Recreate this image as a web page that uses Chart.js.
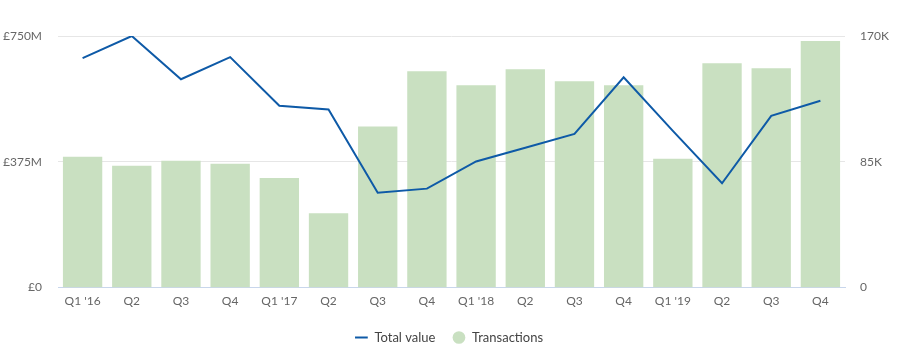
<!DOCTYPE html>
<html>
<head>
<meta charset="utf-8">
<script src="https://cdn.jsdelivr.net/npm/chart.js@4/dist/chart.umd.min.js"></script>
<style>
html,body{margin:0;padding:0;background:#fff;}
#wrap{width:898px;height:364px;position:relative;}
</style>
</head>
<body>
<div id="wrap"><canvas id="c" width="898" height="364"></canvas></div>
<script>
const categories = ["Q1 '16","Q2","Q3","Q4","Q1 '17","Q2","Q3","Q4","Q1 '18","Q2","Q3","Q4","Q1 '19","Q2","Q3","Q4"];
// Total value, £ millions
const totalValue = [684,750,621,687,542,531,283,295,376,417,458,627,467,311,512,557];
// Transactions, thousands
const transactions = [88.4,82.3,85.7,83.6,74.1,50.3,108.8,146.2,136.7,147.6,139.4,136.7,87.0,151.6,148.2,166.6];
const leftTicks = [0,375,750];
const rightTicks = [0,85,170];

const font = {family: "Lato, 'Noto Sans', sans-serif", size: 12};
const textColor = '#666666';

new Chart(document.getElementById('c'), {
  data: {
    labels: categories,
    datasets: [
      {
        type: 'line',
        label: 'Total value',
        data: totalValue,
        yAxisID: 'yL',
        borderColor: '#0e5aa7',
        backgroundColor: '#0e5aa7',
        borderWidth: 2,
        pointRadius: 0,
        pointHoverRadius: 0,
        tension: 0,
        pointStyle: 'line',
        order: 0
      },
      {
        type: 'bar',
        label: 'Transactions',
        data: transactions,
        yAxisID: 'yR',
        backgroundColor: '#c9e0c1',
        borderWidth: 0,
        categoryPercentage: 0.8,
        barPercentage: 1.0,
        pointStyle: 'circle',
        order: 1
      }
    ]
  },
  options: {
    responsive: false,
    animation: false,
    layout: {padding: {top: 36, bottom: 10, left: 0, right: 0}},
    plugins: {
      tooltip: {enabled: false},
      legend: {
        position: 'bottom',
        labels: {
          usePointStyle: true,
          font: {family: font.family, size: 13},
          color: '#444444',
          boxWidth: 15,
          boxHeight: 9,
          padding: 17
        }
      }
    },
    scales: {
      x: {
        grid: {display: false, drawTicks: false},
        border: {display: true, color: '#c8d6ec', width: 1},
        ticks: {font: font, color: textColor, padding: 6, maxRotation: 0, autoSkip: false}
      },
      yL: {
        position: 'left',
        min: 0, max: 750,
        afterBuildTicks: (s) => { s.ticks = leftTicks.map(v => ({value: v})); },
        afterFit: (s) => { s.width = 58; },
        grid: {color: '#e6e6e6', drawTicks: false},
        border: {display: false},
        ticks: {
          font: font, color: textColor, padding: 16,
          callback: (v) => v === 0 ? '£0' : '£' + v + 'M'
        }
      },
      yR: {
        position: 'right',
        min: 0, max: 170,
        afterBuildTicks: (s) => { s.ticks = rightTicks.map(v => ({value: v})); },
        afterFit: (s) => { s.width = 53; },
        grid: {display: false, drawTicks: false},
        border: {display: false},
        ticks: {
          font: font, color: textColor, padding: 15,
          callback: (v) => v === 0 ? '0' : v + 'K'
        }
      }
    }
  }
});
</script>
</body>
</html>
